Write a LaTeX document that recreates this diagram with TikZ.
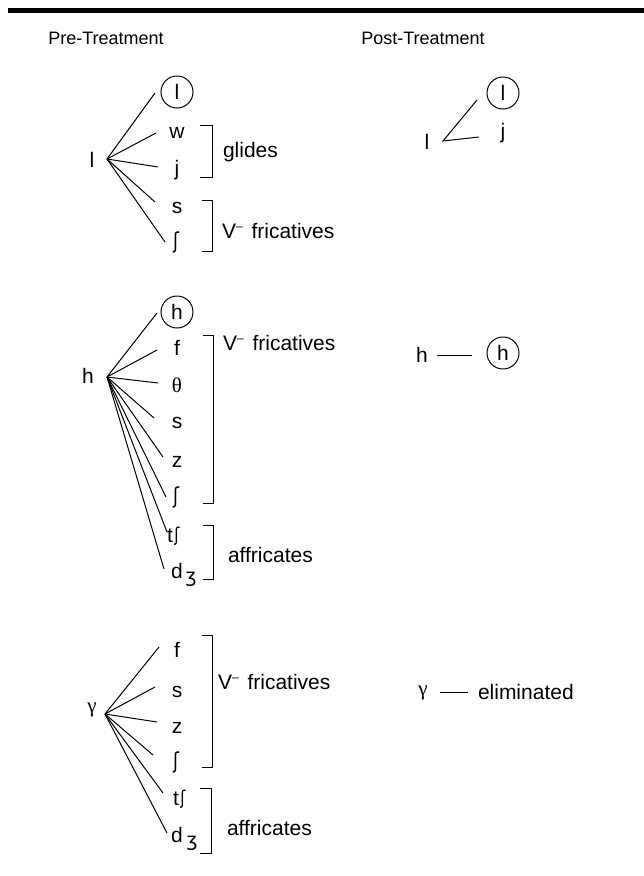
\documentclass[tikz,border=0pt]{standalone}
\usepackage{fontspec}
\usepackage{graphicx}
\setmainfont{Liberation Sans}
\newfontfamily\ipafont{DejaVu Sans}
\newfontfamily\grkfont{Liberation Serif}
\newcommand{\labsz}{\fontsize{21}{25}\selectfont}
\newcommand{\headsz}{\fontsize{18}{22}\selectfont}
\newcommand{\myesh}[1][15]{\scalebox{0.8}[1]{\ipafont\fontsize{#1}{#1}\selectfont ʃ}}
\newcommand{\myezh}{{\ipafont\fontsize{19}{19}\selectfont ʒ}}
\newcommand{\vminus}{V\raisebox{8.5pt}{\fontsize{12}{12}\selectfont –}\kern3pt\ fricatives}
\tikzset{
  lab/.style={font=\labsz, inner sep=0pt, outer sep=0pt},
  ring/.style={circle, draw, line width=1pt, minimum size=32pt, inner sep=0pt, font=\labsz},
  link/.style={line width=1pt},
  brk/.style={line width=1pt},
  head/.style={font=\headsz, inner sep=0pt},
}
\begin{document}
\begin{tikzpicture}[x=1pt,y=-1pt]
\useasboundingbox (0,0) rectangle (644,876);
\fill (8,8) rectangle (644,13.3);
\node[head] (hpre) at (106,38) {Pre-Treatment};
\node[head] (hpost) at (423,38) {Post-Treatment};

% ---------- Group 1: l ----------
\node[lab] (l1) at (92,160) {l};
\coordinate (o1) at (107,159);
\node[ring] (l1c) at (177,92) {l};
\node[lab] (l1w) at (177,133) {w};
\node[lab] (l1j) at (177,170) {j};
\node[lab] (l1s) at (177,208) {s};
\node[lab] (l1sh) at (176,242) {\myesh[22]};
\coordinate (e1a) at (155,93);
\coordinate (e1b) at (156,133);
\coordinate (e1c) at (158,167);
\coordinate (e1d) at (155,202);
\coordinate (e1e) at (165,242);
\foreach \e in {e1a,e1b,e1c,e1d,e1e} \draw[link] (o1) -- (\e);
\draw[brk] (200,125) -- (212,125) -- (212,177) -- (200,177);
\node[lab, anchor=west] (glides) at (223,152) {glides};
\draw[brk] (202,200) -- (212,200) -- (212,251) -- (202,251);
\node[lab, anchor=base west] (fric1) at (222,238.5) {\vminus};

% ---------- Group 2: h ----------
\node[lab] (h2) at (88,376) {h};
\coordinate (o2) at (107,377);
\node[ring] (h2c) at (177,312) {h};
\node[lab] (h2f) at (177,348) {f};
\node[lab] (h2th) at (177,385) {\grkfont θ};
\node[lab] (h2s) at (177,423) {s};
\node[lab] (h2z) at (177,462) {z};
\node[lab] (h2sh) at (176,497) {\myesh[22]};
\node[lab, anchor=base west] (h2tsh) at (167,542) {t\kern1.5pt\raisebox{1pt}{\myesh[19]}};
\node[lab, anchor=base west] (h2dzh) at (171,578) {d\kern3pt\raisebox{-4.4pt}{\myezh}};
\coordinate (e2a) at (157,313);
\coordinate (e2b) at (157,350);
\coordinate (e2c) at (158,383);
\coordinate (e2d) at (154,418);
\coordinate (e2e) at (163,457);
\coordinate (e2f) at (166,497);
\coordinate (e2g) at (167,532);
\coordinate (e2h) at (164,569);
\foreach \e in {e2a,e2b,e2c,e2d,e2e,e2f,e2g,e2h} \draw[link] (o2) -- (\e);
\draw[brk] (203,335) -- (213,335) -- (213,503) -- (203,503);
\node[lab, anchor=base west] (fric2) at (223,350.5) {\vminus};
\draw[brk] (203,525) -- (213,525) -- (213,579) -- (203,579);
\node[lab, anchor=west] (aff2) at (228,555) {affricates};

% ---------- Group 3: gamma ----------
\node[lab] (g3) at (92,710) {\grkfont γ};
\coordinate (o3) at (105,714);
\node[lab] (g3f) at (177,650) {f};
\node[lab] (g3s) at (177,692) {s};
\node[lab] (g3z) at (177,728) {z};
\node[lab] (g3sh) at (176,762) {\myesh[22]};
\node[lab, anchor=base west] (g3tsh) at (173,805) {t\kern1.5pt\raisebox{1pt}{\myesh[19]}};
\node[lab, anchor=base west] (g3dzh) at (171,842) {d\kern4pt\raisebox{-4.4pt}{\myezh}};
\coordinate (e3a) at (159,647);
\coordinate (e3b) at (155,687);
\coordinate (e3c) at (157,722);
\coordinate (e3d) at (153,755);
\coordinate (e3e) at (163,793);
\coordinate (e3f) at (167,833);
\foreach \e in {e3a,e3b,e3c,e3d,e3e,e3f} \draw[link] (o3) -- (\e);
\draw[brk] (202,635) -- (212,635) -- (212,767) -- (202,767);
\node[lab, anchor=base west] (fric3) at (218,689.5) {\vminus};
\draw[brk] (200,788) -- (211,788) -- (211,853) -- (200,853);
\node[lab, anchor=west] (aff3) at (227,828) {affricates};

% ---------- Post-treatment ----------
\node[lab] (pl) at (427,142) {l};
\coordinate (po1) at (443,141);
\node[ring] (plc) at (503,93) {l};
\node[lab] (pj) at (503,133) {j};
\coordinate (pe1) at (477,100);
\coordinate (pe2) at (479,137);
\draw[link] (pe1) -- (po1) -- (pe2);

\node[lab] (ph) at (422,355) {h};
\node[ring] (phc) at (503,353) {h};
\coordinate (ps2) at (437,355);
\coordinate (pt2) at (472,355);
\draw[link] (ps2) -- (pt2);

\node[lab] (pg) at (423,693) {\grkfont γ};
\node[lab, anchor=west] (elim) at (478,692) {eliminated};
\coordinate (ps3) at (440,692);
\coordinate (pt3) at (468,692);
\draw[link] (ps3) -- (pt3);
\end{tikzpicture}
\end{document}
